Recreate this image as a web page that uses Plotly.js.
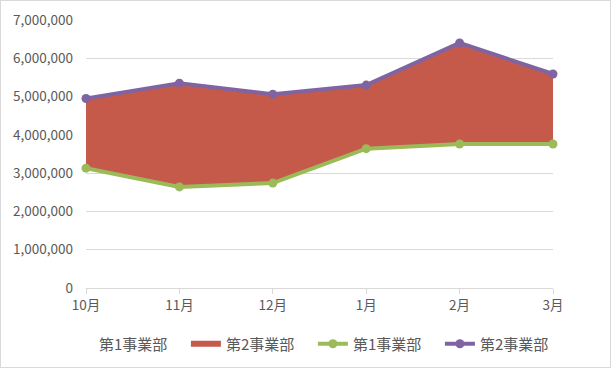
<!DOCTYPE html>
<html>
<head>
<meta charset="utf-8">
<script src="https://cdn.plot.ly/plotly-3.0.1.min.js"></script>
<style>
html,body{margin:0;padding:0;background:#fff;}
#chart{width:611px;height:368px;box-sizing:border-box;border:1px solid #d9d9d9;}
</style>
</head>
<body>
<div id="chart"></div>
<script>
const months = ["10月", "11月", "12月", "1月", "2月", "3月"];
const dept1 = [3130000, 2640000, 2740000, 3640000, 3760000, 3760000];
const dept2 = [1820000, 2710000, 2320000, 1660000, 2640000, 1830000];
const name1 = "第1事業部";
const name2 = "第2事業部";

const font = "'Noto Sans CJK JP', 'Noto Sans', sans-serif";
const traces = [
  {x: months, y: dept1, name: name1, type: "scatter", mode: "none", stackgroup: "area",
   fill: "tozeroy", fillcolor: "rgba(255,255,255,0)", hoverinfo: "skip"},
  {x: months, y: dept2, name: name2, type: "scatter", mode: "none", stackgroup: "area",
   fill: "tonexty", fillcolor: "#C55A4B"},
  {x: months, y: dept1, name: name1, type: "scatter", mode: "lines+markers", stackgroup: "line",
   fill: "none", line: {color: "#9BBB59", width: 4}, marker: {color: "#9BBB59", size: 9}, cliponaxis: false},
  {x: months, y: dept2, name: name2, type: "scatter", mode: "lines+markers", stackgroup: "line",
   fill: "none", line: {color: "#8064A2", width: 4}, marker: {color: "#8064A2", size: 9}, cliponaxis: false}
];

const layout = {
  width: 609, height: 366,
  margin: {l: 85, r: 57, t: 19, b: 79, autoexpand: false},
  paper_bgcolor: "#fff", plot_bgcolor: "#fff",
  font: {family: font, size: 13.5, color: "#595959"},
  showlegend: true,
  legend: {orientation: "h", x: -0.058, xanchor: "left", y: -0.209, yanchor: "middle",
           font: {family: font, size: 15, color: "#595959"}, traceorder: "normal",
           itemwidth: 30, entrywidth: 82, entrywidthmode: "pixels"},
  xaxis: {type: "category", range: [0, 5], showgrid: false, zeroline: false,
          showline: false, ticks: "outside", ticklen: 5, tickcolor: "#d9d9d9", fixedrange: true},
  yaxis: {range: [0, 7000000], dtick: 1000000, tickformat: ",d", showgrid: true,
          gridcolor: "#d9d9d9", gridwidth: 1, zeroline: true, zerolinecolor: "#d9d9d9",
          zerolinewidth: 1, ticks: "", ticklabelstandoff: 12}
};

Plotly.newPlot("chart", traces, layout, {displayModeBar: false, staticPlot: true});
</script>
</body>
</html>
